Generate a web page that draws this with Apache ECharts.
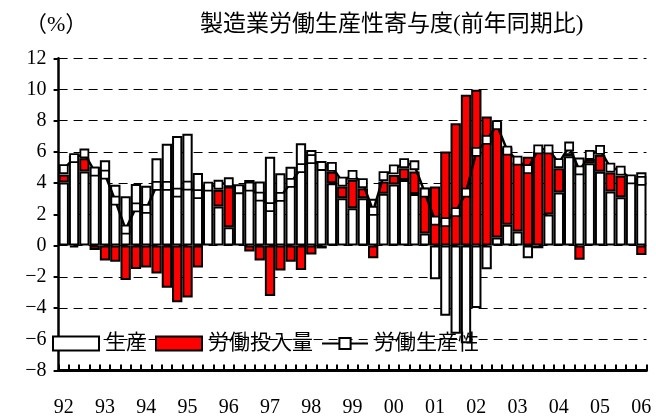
<!DOCTYPE html>
<html>
    <head>
        <meta charset="utf-8">
        <script src="https://cdn.jsdelivr.net/npm/echarts@6/dist/echarts.min.js"></script>
        <style>
            body { margin: 0; background: #fff; }
        </style>
    </head>
    <body>
        <div id="main" style="width: 656px;height:419px;"></div>
        <script type="text/javascript">
            // 年ラベル(各年の第1四半期に表示)
            var years = ['92', '93', '94', '95', '96', '97', '98', '99', '00', '01', '02', '03', '04', '05', '06'];
            // 生産 (1992Q1 - 2006Q1)
            var production = [
                4.05, 5.75, 4.75, 5.05,
                5.47, 3.9, 3.17, 3.95,
                3.83, 5.6, 6.52, 7.03,
                7.16, 4.66, 3.85, 2.5,
                1.18, 3.8, 4.2, 4.1,
                5.7, 4.64, 5.06, 6.55,
                6.13, 5.3, 4.0, 3.03,
                2.39, 3.03, 3.0, 3.32,
                3.92, 4.2, 3.3, 0.78,
                -2.16, -4.5, -5.65, -6.26,
                -4.0, -1.52, 0.52, 1.33,
                0.9, -0.81, -0.17, 2.0,
                3.4, 5.72, 5.65, 5.28,
                4.74, 3.46, 3.1, 4.25,
                4.7
            ];
            // 労働投入量
            var laborInput = [
                0.5, -0.12, 0.85, -0.28,
                -0.95, -1.03, -2.2, -1.5,
                -1.4, -1.78, -2.7, -3.62,
                -3.33, -1.4, 0, 1.07,
                2.6, 0, -0.38, -0.96,
                -3.23, -1.6, -1.03, -1.56,
                -0.57, -0.18, 0.74, 0.75,
                1.81, 0.64, -0.81, 0.78,
                0.6, 0.76, 1.45, 2.95,
                3.78, 6.03, 7.84, 9.66,
                9.98, 8.27, 7.4, 4.95,
                4.42, 5.7, 6.03, 4.05,
                1.56, 0.2, -0.9, 0.27,
                1.07, 1.22, 1.38, 0,
                -0.6
            ];
            // 労働生産性
            var productivity = [
                4.9, 5.6, 5.9, 4.74,
                4.55, 2.88, 1.03, 2.45,
                2.35, 3.83, 3.83, 3.4,
                3.84, 3.3, 3.78, 3.9,
                4.06, 3.61, 3.78, 3.14,
                2.47, 3.12, 4.02, 4.96,
                5.54, 5.1, 5.05, 4.1,
                4.53, 4.0, 2.22, 4.45,
                4.88, 5.28, 5.15, 3.4,
                1.6, 1.5, 2.14, 3.4,
                6.0, 6.77, 7.72, 6.09,
                5.45, 4.9, 6.17, 6.17,
                5.28, 6.35, 4.82, 5.81,
                6.13, 5.0, 4.81, 4.25,
                4.15
            ];

            var quarters = [];
            years.forEach(function (y) {
                for (var q = 1; q <= 4; q++) {
                    if (quarters.length < production.length) quarters.push(y + 'Q' + q);
                }
            });

            var fontFamily = "'Liberation Serif', 'Noto Sans CJK JP', serif";

            var myChart = echarts.init(document.getElementById('main'));

            var option = {
                animation: false,
                backgroundColor: '#fff',
                textStyle: { fontFamily: fontFamily, color: '#000' },
                title: [
                    {
                        text: '（%）',
                        left: 20,
                        top: 9,
                        textStyle: { fontFamily: fontFamily, fontSize: 22, fontWeight: 'normal', color: '#000' }
                    },
                    {
                        text: '製造業労働生産性寄与度(前年同期比)',
                        left: 195,
                        top: 8,
                        textStyle: { fontFamily: fontFamily, fontSize: 23, fontWeight: 'normal', color: '#000' }
                    }
                ],
                legend: {
                    left: 52,
                    top: 333,
                    padding: 0,
                    itemWidth: 46,
                    itemHeight: 14,
                    itemGap: 8,
                    textStyle: { fontFamily: fontFamily, fontSize: 21, color: '#000', padding: [0, 0, 0, 1] },
                    data: [
                        { name: '生産', icon: 'rect' },
                        { name: '労働投入量', icon: 'rect' },
                        { name: '労働生産性' }
                    ]
                },
                grid: {
                    left: 58.6,
                    right: 9.5,
                    top: 58.3,
                    bottom: 48.5
                },
                xAxis: {
                    type: 'category',
                    data: quarters,
                    boundaryGap: true,
                    axisLine: { onZero: false, lineStyle: { color: '#000', width: 3 } },
                    axisTick: { show: true, inside: true, length: 6, interval: 0, lineStyle: { color: '#000', width: 2 } },
                    axisLabel: {
                        interval: 3,
                        margin: 27,
                        fontSize: 20,
                        color: '#000',
                        fontFamily: fontFamily,
                        formatter: function (v) { return v.slice(0, 2); }
                    },
                    splitLine: { show: false }
                },
                yAxis: {
                    type: 'value',
                    min: -8,
                    max: 12,
                    interval: 2,
                    axisLine: { show: true, lineStyle: { color: '#000', width: 2.5 } },
                    axisTick: { show: true, length: 5, lineStyle: { color: '#000', width: 2 } },
                    axisLabel: {
                        margin: 12,
                        fontSize: 20,
                        color: '#000',
                        fontFamily: fontFamily,
                        formatter: function (v) { return String(v).replace('-', '\u2212'); }
                    },
                    splitLine: { show: true, lineStyle: { color: '#000', width: 1, type: [9, 6] } }
                },
                series: [
                    {
                        name: '生産',
                        type: 'bar',
                        stack: 'total',
                        barCategoryGap: '0%',
                        data: production,
                        itemStyle: { color: '#fff', borderColor: '#000', borderWidth: 2 }
                    },
                    {
                        name: '労働投入量',
                        type: 'bar',
                        stack: 'total',
                        barCategoryGap: '0%',
                        data: laborInput,
                        itemStyle: { color: '#ff0000', borderColor: '#000', borderWidth: 2 }
                    },
                    {
                        name: '労働生産性',
                        type: 'line',
                        data: productivity,
                        z: 5,
                        symbol: 'rect',
                        symbolSize: 8,
                        showAllSymbol: true,
                        lineStyle: { color: '#000', width: 2.5 },
                        itemStyle: { color: '#fff', borderColor: '#000', borderWidth: 1.8 }
                    }
                ]
            };

            myChart.setOption(option);
        </script>
    </body>
</html>
